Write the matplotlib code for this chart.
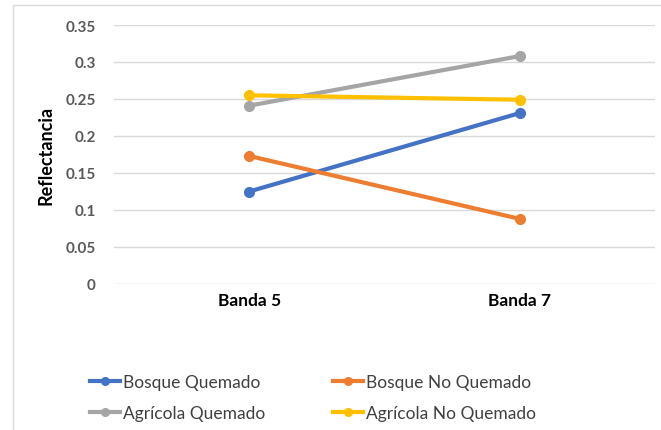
import matplotlib
matplotlib.use("Agg")
import matplotlib.pyplot as plt
from matplotlib.lines import Line2D
from matplotlib.patches import Rectangle

categories = ["Banda 5", "Banda 7"]
series_names = ["Bosque Quemado", "Bosque No Quemado", "Agrícola Quemado", "Agrícola No Quemado"]
bosque_quemado = [0.125, 0.231]
bosque_no_quemado = [0.173, 0.088]
agricola_quemado = [0.241, 0.308]
agricola_no_quemado = [0.255, 0.249]
colors = ["#4472C4", "#ED7D31", "#A5A5A5", "#FFC000"]
yticks = [0, 0.05, 0.1, 0.15, 0.2, 0.25, 0.3, 0.35]
ytick_labels = ["0", "0.05", "0.1", "0.15", "0.2", "0.25", "0.3", "0.35"]

plt.rcParams['font.family'] = ['Lato', 'DejaVu Sans']

W, H = 661, 431
fig = plt.figure(figsize=(W / 100, H / 100), dpi=100)
# chart frame
fig.patches.append(Rectangle((13 / W, -0.01), 1.0, 1 - 6 / H + 0.01, transform=fig.transFigure,
                             fill=False, edgecolor="#D9D9D9", linewidth=1.0))

ax = fig.add_axes([114 / W, 1 - 285 / H, (655 - 114) / W, (285 - 26) / H])
x = [0, 1]
for vals, c in zip([bosque_quemado, bosque_no_quemado, agricola_quemado, agricola_no_quemado], colors):
    ax.plot(x, vals, color=c, linewidth=3, marker="o", markersize=7, solid_capstyle="round")

ax.set_xlim(-0.5, 1.5)
ax.set_ylim(0, 0.35)
ax.set_yticks(yticks)
ax.set_yticklabels(ytick_labels, fontsize=11, fontweight="bold", color="#595959")
ax.set_xticks(x)
ax.set_xticklabels(categories, fontsize=12.5, fontweight="bold", color="#000000")
ax.tick_params(axis="both", length=0)
ax.tick_params(axis="y", pad=13)
ax.tick_params(axis="x", pad=6)
ax.grid(axis="y", color="#D9D9D9", linewidth=1)
ax.set_axisbelow(True)
for s in ax.spines.values():
    s.set_visible(False)
ax.set_ylabel("Reflectancia", fontsize=13, fontweight="bold", labelpad=8)

fs = 12.5
fpx = fs * 100 / 72
handles = [Line2D([], [], color=c, linewidth=3, marker="o", markersize=5.5) for c in colors]
order = [0, 2, 1, 3]
fig.legend([handles[i] for i in order], [series_names[i] for i in order],
           loc="center left", bbox_to_anchor=(74 / W, 1 - 398.5 / H), ncol=2,
           frameon=False, fontsize=fs,
           columnspacing=68 / fpx, handlelength=30 / fpx,
           handletextpad=3 / fpx, labelspacing=0.88, labelcolor="#404040")

fig.savefig("out.png", dpi=100)
